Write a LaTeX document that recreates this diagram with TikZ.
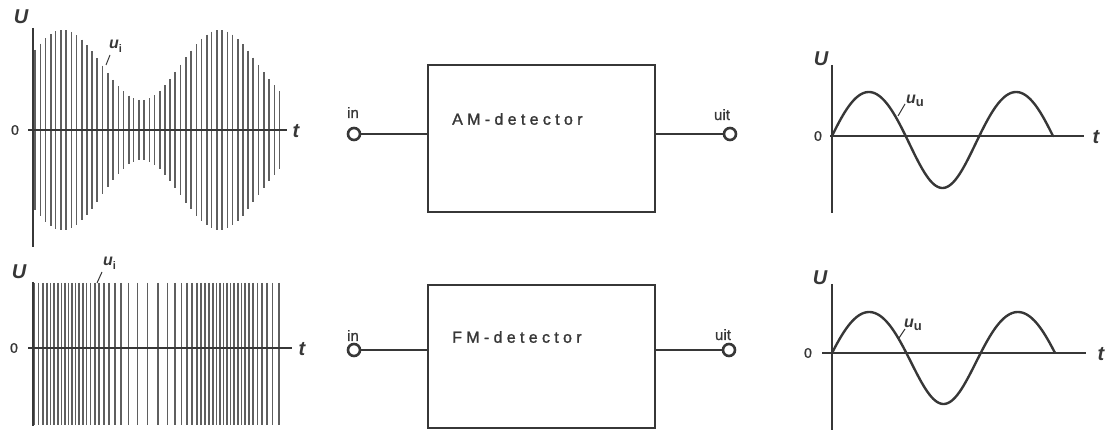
\documentclass[tikz,border=0pt]{standalone}
\usepackage{fontspec}
\setmainfont{Liberation Sans}
\newfontfamily\detfont[LetterSpace=27,FakeBold=1.5]{Liberation Sans}
\newfontfamily\portfont[FakeBold=1]{Liberation Sans}
\definecolor{inkc}{RGB}{55,55,55}
\definecolor{barc}{RGB}{95,95,95}
\begin{document}
\begin{tikzpicture}[x=1pt,y=-1pt,
 axis/.style={draw=inkc, line width=1.6pt},
 bar/.style={draw=barc},
 sig/.style={draw=inkc, line width=2.4pt, line cap=round},
 lbl/.style={font=\fontsize{20}{20}\selectfont\bfseries\itshape, text=inkc, inner sep=0},
 zero/.style={font=\portfont\fontsize{14}{14}\selectfont, text=inkc, inner sep=0},
 ulab/.style={font=\fontsize{16}{16}\selectfont\bfseries\itshape, text=inkc, inner sep=0, anchor=south west},
 leader/.style={draw=inkc, line width=1pt},
 box/.style={draw=inkc, line width=1.5pt, minimum width=227pt, minimum height=147pt, inner sep=0},
 term/.style={circle, draw=inkc, line width=2.6pt, minimum size=12pt, inner sep=0, fill=white},
 wire/.style={draw=inkc, line width=1.5pt},
 port/.style={font=\portfont\fontsize{15}{15}\selectfont, text=inkc, inner sep=0, anchor=base},
 det/.style={font=\detfont\fontsize{16}{16}\selectfont, text=inkc, inner sep=0, anchor=west},
]
\useasboundingbox (0,0) rectangle (1109,430);

% ---------- top-left: AM signal ----------
\foreach \i in {0,...,47} {
  \pgfmathsetmacro\xx{35+5.2*\i}
  \pgfmathsetmacro\aa{65+35*cos(2.3*(\xx-63))}
  \pgfmathsetmacro\ww{mod(\i,3)==0 ? 2.0 : (mod(\i,3)==1 ? 1.1 : 1.6)}
  \draw[bar, line width=\ww pt] (\xx,{130-\aa}) -- (\xx,{130+\aa});
}
\coordinate (a1t) at (33,28);
\coordinate (a1b) at (33,247);
\coordinate (a1l) at (28,130);
\coordinate (a1r) at (287,130);
\draw[axis, line width=2.4pt] (a1t) -- (a1b);
\draw[axis] (a1l) -- (a1r);
\node[lbl] (U1) at (21,17) {U};
\node[zero] (z1) at (15,130) {0};
\node[lbl] (t1) at (296,131) {t};
\node[ulab] (ui1) at (109,53) {u\raisebox{-4pt}{\fontsize{11}{11}\selectfont\upshape i}};
\coordinate (l1a) at (106,65);
\coordinate (l1b) at (110,55);
\draw[leader] (l1a) -- (l1b);

% ---------- bottom-left: FM signal ----------
\foreach \xx in {34,38.5,42.7,46.7,50.5,54.2,57.8,61.4,64.9,68.4,71.9,75.5,79.1,82.8,86.6,90.5,94.7,99.1,103.8,109,114.7,121.1,128.6,137.4,147.5,158,167.3,175,181.5,187.2,192.2,196.8,201.1,205.2,209.1,212.8,216.5,220,223.6,227.1,230.6,234.1,237.7,241.4,245.2,249.1,253.2,257.5,262.1,267.1,272.6,278.7} {
  \draw[bar, line width=1.6pt] (\xx,283) -- (\xx,425);
}
\coordinate (a2t) at (33,282);
\coordinate (a2b) at (33,426);
\coordinate (a2l) at (28,348);
\coordinate (a2r) at (292,348);
\draw[axis, line width=2.2pt] (a2t) -- (a2b);
\draw[axis] (a2l) -- (a2r);
\node[lbl] (U2) at (19,272) {U};
\node[zero] (z2) at (14,348) {0};
\node[lbl] (t2) at (302,349) {t};
\node[ulab] (ui2) at (103,270) {u\raisebox{-4pt}{\fontsize{11}{11}\selectfont\upshape i}};
\coordinate (l2a) at (97,283);
\coordinate (l2b) at (102,272);
\draw[leader] (l2a) -- (l2b);

% ---------- AM detector ----------
\node[box] (amb) at (541.5,138.5) {};
\node[det] (amt) at (452,119) {AM-detector};
\node[term] (ain) at (354,134) {};
\node[term] (aout) at (730,134) {};
\node[port] (ainl) at (353,118) {in};
\node[port] (aoutl) at (722,120) {uit};
\draw[wire] (ain.east) -- (ain.east -| amb.west);
\draw[wire] (aout.west) -- (aout.west -| amb.east);

% ---------- FM detector ----------
\node[box, minimum height=143pt] (fmb) at (541.5,356.5) {};
\node[det] (fmt) at (452,337) {FM-detector};
\node[term] (fin) at (354,350) {};
\node[term] (fout) at (729,350) {};
\node[port] (finl) at (353,341) {in};
\node[port] (foutl) at (723,340) {uit};
\draw[wire] (fin.east) -- (fin.east -| fmb.west);
\draw[wire] (fout.west) -- (fout.west -| fmb.east);

% ---------- top-right: output sine ----------
\coordinate (a3t) at (832,65);
\coordinate (a3b) at (832,213);
\coordinate (a3l) at (830,136);
\coordinate (a3r) at (1084,136);
\draw[axis] (a3t) -- (a3b);
\draw[axis, line width=1.4pt] (a3l) -- (a3r);
\draw[sig] plot[domain=0:221, samples=120, smooth] ({\x+832}, {136-48*sin(2.444*\x)+4*sin(2.444*\x)^2});
\node[lbl] (U3) at (821,59) {U};
\node[zero] (z3) at (818,136) {0};
\node[lbl] (t3) at (1096,137) {t};
\node[ulab] (uu1) at (906,107) {u\raisebox{-3pt}{\fontsize{13}{13}\selectfont\upshape\bfseries u}};
\coordinate (l3a) at (898,116);
\coordinate (l3b) at (905,104);
\draw[leader] (l3a) -- (l3b);

% ---------- bottom-right: output sine ----------
\coordinate (a4t) at (832,284);
\coordinate (a4b) at (832,430);
\coordinate (a4l) at (822,353);
\coordinate (a4r) at (1086,353);
\draw[axis] (a4t) -- (a4b);
\draw[axis, line width=1.4pt] (a4l) -- (a4r);
\draw[sig] plot[domain=0:223, samples=120, smooth] ({\x+832}, {353-46*sin(2.421*\x)+5*sin(2.421*\x)^2});
\node[lbl] (U4) at (820,278) {U};
\node[zero] (z4) at (808,353) {0};
\node[lbl] (t4) at (1101,354) {t};
\node[ulab] (uu2) at (904,331) {u\raisebox{-3pt}{\fontsize{13}{13}\selectfont\upshape\bfseries u}};
\coordinate (l4a) at (899,338);
\coordinate (l4b) at (905,329);
\draw[leader] (l4a) -- (l4b);
\end{tikzpicture}
\end{document}
